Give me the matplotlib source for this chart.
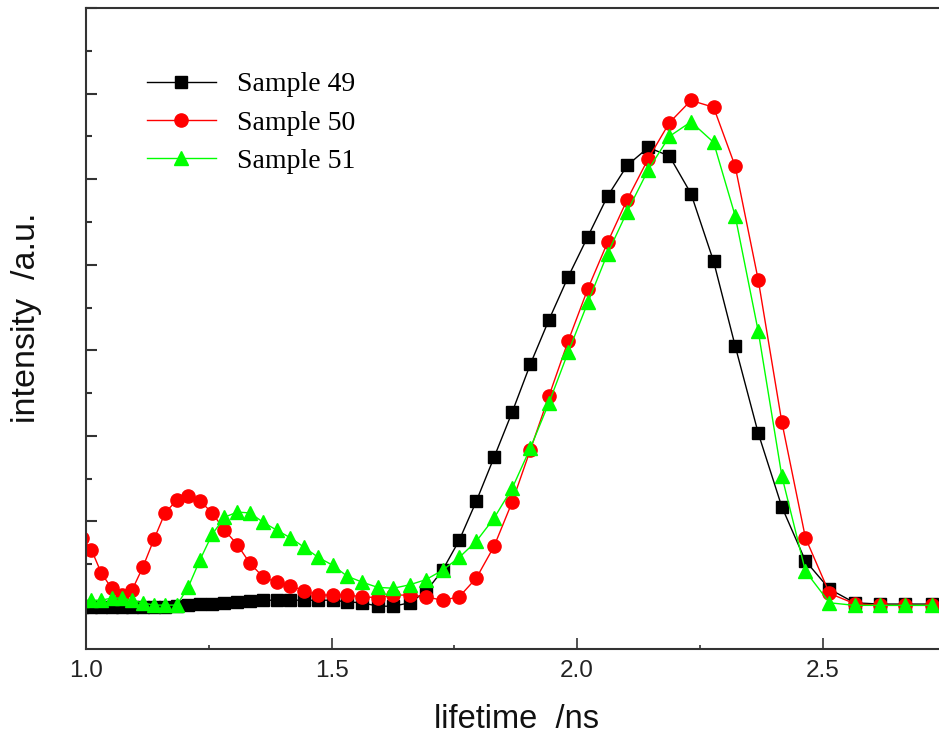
import matplotlib
matplotlib.use("Agg")
import matplotlib.pyplot as plt
from matplotlib.ticker import MultipleLocator, NullFormatter, FixedLocator

# lifetime grid (ns)
lifetime = [0.991, 1.011, 1.031, 1.052, 1.073, 1.094, 1.116, 1.139, 1.161, 1.185,
            1.208, 1.232, 1.257, 1.282, 1.308, 1.334, 1.361, 1.388, 1.416, 1.444,
            1.473, 1.502, 1.532, 1.563, 1.594, 1.626, 1.659, 1.692, 1.726, 1.760,
            1.795, 1.831, 1.868, 1.905, 1.943, 1.982, 2.022, 2.062, 2.102, 2.145,
            2.188, 2.232, 2.278, 2.322, 2.369, 2.417, 2.465, 2.514, 2.565, 2.616,
            2.668, 2.722]

sample49 = [0.00, 0.00, 0.00, 0.00, 0.00, 0.00, 0.00, 0.00, 0.00, 0.01,
            0.02, 0.035, 0.035, 0.05, 0.06, 0.07, 0.08, 0.08, 0.08, 0.08,
            0.08, 0.08, 0.06, 0.05, 0.01, 0.01, 0.05, 0.18, 0.43, 0.78,
            1.24, 1.75, 2.28, 2.84, 3.36, 3.86, 4.33, 4.80, 5.16, 5.37,
            5.27, 4.83, 4.04, 3.05, 2.03, 1.17, 0.54, 0.21, 0.05, 0.035,
            0.035, 0.035]

sample50 = [0.81, 0.67, 0.40, 0.22, 0.14, 0.20, 0.47, 0.80, 1.10, 1.25,
            1.30, 1.24, 1.10, 0.90, 0.73, 0.51, 0.35, 0.29, 0.25, 0.19,
            0.14, 0.14, 0.14, 0.12, 0.11, 0.14, 0.14, 0.12, 0.08, 0.12,
            0.34, 0.71, 1.23, 1.84, 2.47, 3.11, 3.72, 4.26, 4.76, 5.24,
            5.66, 5.92, 5.84, 5.15, 3.82, 2.16, 0.81, 0.16, 0.04, 0.02,
            0.02, 0.02]

sample51 = [0.08, 0.08, 0.08, 0.105, 0.105, 0.08, 0.047, 0.023, 0.023, 0.023,
            0.23, 0.55, 0.85, 1.05, 1.11, 1.10, 0.99, 0.90, 0.81, 0.70,
            0.58, 0.49, 0.36, 0.29, 0.23, 0.22, 0.26, 0.32, 0.43, 0.58,
            0.77, 1.04, 1.39, 1.86, 2.39, 2.98, 3.56, 4.13, 4.62, 5.11,
            5.50, 5.67, 5.43, 4.57, 3.22, 1.53, 0.42, 0.05, 0.02, 0.02,
            0.02, 0.02]

labels = ["Sample 49", "Sample 50", "Sample 51"]
xticks = [1.0, 1.5, 2.0, 2.5]
xticklabels = ["1.0", "1.5", "2.0", "2.5"]

W, H = 939, 741
fig = plt.figure(figsize=(W / 100, H / 100), dpi=100)
ax = fig.add_axes([86 / W, 1 - 649 / H, 1 - 86 / W, (649 - 8) / H])

ax.plot(lifetime, sample49, color="black", lw=1.0, marker="s", ms=8.6,
        mec="black", mfc="black", label=labels[0])
ax.plot(lifetime, sample50, color="#ff0000", lw=1.0, marker="o", ms=9.5,
        mec="#ff0000", mfc="#ff0000", label=labels[1])
ax.plot(lifetime, sample51, color="#00ff00", lw=1.0, marker="^", ms=10.5,
        mec="#00ff00", mfc="#00ff00", label=labels[2])

ax.set_xlim(1.0, 2.737)
ax.set_ylim(-0.49, 7.0)

spine_col = "#333333"
for s in ["left", "bottom", "top"]:
    ax.spines[s].set_linewidth(1.5)
    ax.spines[s].set_color(spine_col)
ax.spines["right"].set_visible(False)

ax.xaxis.set_major_locator(FixedLocator(xticks))
ax.set_xticklabels(xticklabels)
ax.xaxis.set_minor_locator(FixedLocator([1.25, 1.75, 2.25]))
ax.yaxis.set_major_locator(MultipleLocator(1.0))
ax.yaxis.set_minor_locator(MultipleLocator(0.5))
ax.yaxis.set_major_formatter(NullFormatter())

ax.tick_params(axis="both", which="both", direction="in", colors=spine_col,
               top=False, right=False)
ax.tick_params(axis="x", which="major", length=8, width=1.2, pad=8,
               labelsize=17.5, labelcolor="#222222")
ax.tick_params(axis="x", which="minor", length=3, width=1.2)
ax.tick_params(axis="y", which="major", length=8, width=1.5)
ax.tick_params(axis="y", which="minor", length=4.5, width=1.5)
for t in ax.get_xticklabels():
    t.set_fontfamily("Liberation Sans")

fig.text(516 / W, 1 - 720 / H, "lifetime  /ns", ha="center", va="center",
         fontsize=23.5, family="Liberation Sans", color="#111111")
fig.text(27 / W, 1 - 318 / H, "intensity  /a.u.", ha="center", va="center",
         rotation=90, fontsize=24.5, family="Liberation Sans", color="#111111")

leg = ax.legend(loc="upper left", bbox_to_anchor=(147 / W, 1 - 72 / H),
                bbox_transform=fig.transFigure, frameon=False, borderpad=0,
                borderaxespad=0, numpoints=1, handlelength=2.48,
                handletextpad=0.75, labelspacing=0.46,
                prop={"family": "Liberation Serif", "size": 20})

fig.savefig("out.png", dpi=100)
